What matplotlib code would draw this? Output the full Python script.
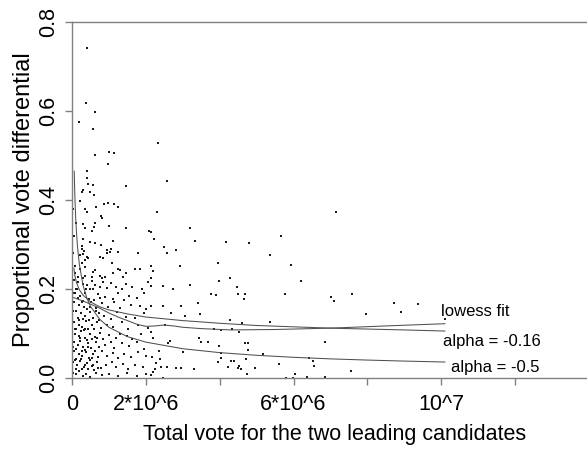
import matplotlib
matplotlib.use("Agg")
import matplotlib.pyplot as plt
import numpy as np

plt.rcParams['font.family'] = ['Liberation Sans', 'DejaVu Sans']

# ---- data (total vote in millions, proportional vote differential) ----
total_vote_m = [
    # upper sparse
    0.40, 0.39, 0.63, 0.20, 0.56, 2.32, 0.62, 1.00, 1.15, 0.98, 0.40, 0.40,
    # 0.22 - 0.44 band, left part
    0.44, 0.58, 1.46, 0.29, 0.26, 0.48, 0.59, 0.22, 0.86, 0.98, 1.14, 1.24, 0.64, 0.35, 0.40,
    0.78, 0.80, 0.11, 0.29, 0.35, 0.63, 0.59, 1.01, 1.46, 2.09, 0.55, 0.31, 1.10, 0.49, 0.62,
    0.78, 0.26, 0.28, 0.33, 0.31, 0.95, 1.05, 1.03, 0.94, 1.24, 1.79, 0.22, 0.40, 0.44, 0.35,
    0.26, 0.76, 0.85, 1.07, 0.08, 0.22, 0.35, 0.62, 0.58, 1.24, 1.30, 1.70, 1.84, 0.08, 0.17,
    0.35, 0.31, 0.53, 0.76, 0.80, 0.89, 1.12, 1.39, 1.46, 0.02, 0.06, 0.04,
    # dense block 0 - 2.1 M, y < 0.22
    0.15, 0.30, 0.40, 0.55, 0.62, 0.75, 0.85, 1.05, 1.20, 1.45, 1.62, 1.90, 2.05, 0.10, 0.50, 0.95, 1.35,
    0.08, 0.22, 0.35, 0.70, 0.90, 1.10, 1.25, 1.55, 1.75, 1.95, 0.45, 0.60, 1.40,
    0.05, 0.18, 0.30, 0.48, 0.80, 0.98, 1.15, 1.30, 1.60, 1.85, 2.00, 0.40, 0.65,
    0.10, 0.25, 0.35, 0.50, 0.58, 0.72, 0.88, 1.05, 1.22, 1.45, 1.70, 1.95, 0.15, 0.30, 0.45,
    0.06, 0.20, 0.28, 0.38, 0.42, 0.55, 0.68, 0.78, 0.95, 1.12, 1.35, 1.52, 1.80, 2.05, 0.12, 0.32,
    0.08, 0.18, 0.25, 0.35, 0.48, 0.62, 0.75, 0.85, 1.00, 1.18, 1.30, 1.48, 1.62, 1.88, 0.40, 0.55,
    0.05, 0.15, 0.22, 0.30, 0.42, 0.52, 0.65, 0.72, 0.90, 1.05, 1.15, 1.35, 1.55, 1.75, 1.95, 0.10, 0.35,
    0.06, 0.18, 0.28, 0.38, 0.45, 0.58, 0.70, 0.82, 0.95, 1.10, 1.25, 1.42, 1.60, 1.80, 2.00, 0.12, 0.25, 0.50,
    0.04, 0.14, 0.22, 0.32, 0.40, 0.55, 0.68, 0.78, 0.92, 1.08, 1.20, 1.38, 1.52, 1.70, 1.92, 0.10, 0.28, 0.60,
    0.03, 0.12, 0.20, 0.30, 0.38, 0.48, 0.65, 0.80, 1.00, 1.25, 1.50, 1.75, 2.00,
    0.02, 0.04, 0.07, 0.03, 0.09, 0.16, 0.19, 0.21, 0.26, 0.33, 0.36, 0.44, 0.47, 0.52, 0.56, 0.60,
    0.63, 0.66, 0.05, 0.13, 0.27, 0.34, 0.39, 0.43, 0.53, 0.58, 0.67, 0.70, 0.73, 0.76,
    # 2.1 - 4.3 M
    2.56, 2.29, 3.19, 2.13, 2.23, 3.32, 4.16, 2.49, 2.81, 2.56, 3.95, 2.92, 2.14, 2.20, 2.15,
    2.15, 2.47, 2.74, 3.19, 3.97, 3.76, 3.89, 2.15, 2.47, 2.96, 3.41, 2.69, 3.46, 3.06, 2.51,
    4.03, 3.84, 2.15, 3.44, 2.20, 2.65, 2.60, 3.50, 3.68, 3.99, 2.36, 3.01, 4.04, 2.18, 2.38,
    3.95, 4.04, 2.27, 2.42, 2.56, 2.81, 2.96, 3.30, 2.24, 2.20, 4.23, 2.47, 2.15,
    # 4.3 - 7.2 M
    7.14, 5.67, 4.79, 5.37, 5.94, 4.29,
    6.19, 4.47, 4.49, 4.69, 4.65, 5.77, 7.02, 7.11, 4.27, 4.61, 5.37, 4.34, 4.52, 4.68, 4.78,
    6.84, 4.77, 5.17, 4.70, 4.31, 4.38, 6.43, 5.62, 6.55, 4.52, 4.49, 4.58, 4.97, 6.05, 6.86,
    6.36, 5.80, 5.98, 4.74, 6.52,
    # > 7.2 M
    7.59, 8.73, 9.36, 7.96, 8.91, 10.10, 7.56,
]
vote_differential = [
    0.742, 0.617, 0.598, 0.575, 0.559, 0.529, 0.502, 0.508, 0.505, 0.480, 0.465, 0.450,
    0.437, 0.434, 0.432, 0.422, 0.419, 0.417, 0.411, 0.398, 0.391, 0.394, 0.391, 0.385, 0.384, 0.379, 0.374,
    0.364, 0.359, 0.348, 0.345, 0.338, 0.348, 0.340, 0.342, 0.338, 0.330, 0.330, 0.312, 0.308, 0.306, 0.303,
    0.300, 0.297, 0.291, 0.286, 0.279, 0.288, 0.290, 0.284, 0.280, 0.284, 0.282, 0.276, 0.273, 0.269, 0.265,
    0.259, 0.271, 0.269, 0.259, 0.252, 0.246, 0.249, 0.243, 0.239, 0.246, 0.243, 0.244, 0.246, 0.235, 0.228,
    0.229, 0.224, 0.226, 0.230, 0.224, 0.226, 0.235, 0.226, 0.237, 0.280, 0.320, 0.380,
    0.215, 0.212, 0.208, 0.218, 0.210, 0.205, 0.215, 0.214, 0.205, 0.212, 0.205, 0.200, 0.215, 0.200, 0.200, 0.202, 0.199,
    0.190, 0.185, 0.192, 0.188, 0.182, 0.178, 0.190, 0.185, 0.180, 0.190, 0.178, 0.176, 0.176,
    0.170, 0.165, 0.172, 0.160, 0.168, 0.160, 0.170, 0.158, 0.165, 0.162, 0.155, 0.155, 0.157,
    0.150, 0.145, 0.140, 0.148, 0.135, 0.145, 0.140, 0.132, 0.148, 0.138, 0.135, 0.145, 0.135, 0.132, 0.131,
    0.125, 0.120, 0.115, 0.127, 0.110, 0.118, 0.125, 0.112, 0.120, 0.115, 0.125, 0.110, 0.118, 0.112, 0.110, 0.108,
    0.100, 0.095, 0.105, 0.090, 0.100, 0.092, 0.102, 0.088, 0.097, 0.090, 0.100, 0.095, 0.088, 0.100, 0.086, 0.087,
    0.080, 0.075, 0.083, 0.070, 0.078, 0.068, 0.080, 0.070, 0.075, 0.082, 0.068, 0.078, 0.072, 0.080, 0.066, 0.065, 0.064,
    0.060, 0.055, 0.050, 0.058, 0.045, 0.055, 0.048, 0.060, 0.050, 0.057, 0.045, 0.055, 0.048, 0.058, 0.050, 0.043, 0.042, 0.041,
    0.035, 0.030, 0.038, 0.025, 0.033, 0.028, 0.035, 0.022, 0.030, 0.036, 0.025, 0.032, 0.020, 0.030, 0.025, 0.020, 0.020, 0.019,
    0.012, 0.008, 0.015, 0.005, 0.010, 0.003, 0.012, 0.006, 0.010, 0.004, 0.012, 0.005, 0.010,
    0.190, 0.150, 0.110, 0.070, 0.040, 0.180, 0.130, 0.090, 0.060, 0.160, 0.110, 0.070, 0.130, 0.170, 0.030, 0.110,
    0.060, 0.150, 0.220, 0.200, 0.170, 0.030, 0.200, 0.020, 0.045, 0.200, 0.090, 0.022, 0.130, 0.180,
    0.443, 0.372, 0.336, 0.329, 0.312, 0.307, 0.305, 0.294, 0.287, 0.282, 0.259, 0.252, 0.252, 0.240, 0.224,
    0.207, 0.207, 0.199, 0.210, 0.219, 0.189, 0.187, 0.162, 0.162, 0.162, 0.169, 0.147, 0.144, 0.139, 0.120,
    0.108, 0.111, 0.104, 0.091, 0.091, 0.083, 0.078, 0.080, 0.080, 0.072, 0.061, 0.058, 0.057, 0.048, 0.042,
    0.037, 0.046, 0.033, 0.025, 0.024, 0.022, 0.022, 0.020, 0.020, 0.014, 0.024, 0.001, 0.006,
    0.373, 0.320, 0.303, 0.276, 0.254, 0.224,
    0.219, 0.204, 0.189, 0.189, 0.177, 0.189, 0.183, 0.173, 0.130, 0.123, 0.126, 0.109, 0.104, 0.078, 0.078,
    0.080, 0.063, 0.053, 0.042, 0.039, 0.039, 0.044, 0.031, 0.027, 0.026, 0.022, 0.020, 0.023, 0.009, 0.003,
    0.002, 0.001, 0.001, 0.009, 0.039,
    0.189, 0.169, 0.166, 0.144, 0.148, 0.132, 0.016,
]

# fitted curves
lowess_x = [0.03, 0.1, 0.2, 0.3, 0.5, 0.75, 1.0, 1.25, 1.5, 1.75, 2.0, 2.25, 2.5, 2.75, 3.0,
            3.5, 4.3, 5.5, 6.5, 7.3, 8.5, 10.1]
lowess_y = [0.181, 0.179, 0.176, 0.173, 0.166, 0.157, 0.146, 0.137, 0.129, 0.121, 0.116, 0.117,
            0.119, 0.117, 0.114, 0.111, 0.108, 0.109, 0.111, 0.113, 0.117, 0.122]

a016_x = [0.05, 0.08, 0.12, 0.2, 0.3, 0.5, 0.75, 1.0, 1.5, 2.0, 3.0, 4.0, 5.0, 6.0, 7.0, 8.0, 9.0, 10.1]
a016_y = [0.247, 0.229, 0.215, 0.198, 0.186, 0.171, 0.160, 0.153, 0.144, 0.137, 0.129, 0.123,
          0.118, 0.115, 0.112, 0.110, 0.108, 0.1055]

a05_x = [0.06, 0.07, 0.08, 0.1, 0.12, 0.15, 0.2, 0.3, 0.4, 0.5, 0.75, 1.0, 1.5, 2.0, 3.0, 4.0,
         5.0, 6.0, 7.0, 8.0, 9.0, 10.1]
a05_y = [0.465, 0.431, 0.403, 0.360, 0.329, 0.294, 0.255, 0.208, 0.180, 0.161, 0.132, 0.114,
         0.093, 0.0806, 0.0658, 0.057, 0.051, 0.0465, 0.043, 0.0403, 0.038, 0.0359]

x_ticks = [0, 2, 4, 6, 8, 10, 12]
x_tick_labels = ["0", "2*10^6", "", "6*10^6", "", "10^7", ""]
y_ticks = [0.0, 0.2, 0.4, 0.6, 0.8]
y_tick_labels = ["0.0", "0.2", "0.4", "0.6", "0.8"]

# ---- figure ----
fig = plt.figure(figsize=(5.87, 4.51), dpi=100)
ax = fig.add_axes([72 / 587, 73 / 451, 515 / 587, 356 / 451])
ax.set_xlim(0, 13.95)
ax.set_ylim(0, 0.8)

ax.scatter(total_vote_m, vote_differential, s=0.8, marker='s', c='#1a1a1a', linewidths=0)

line_kw = dict(color='#505050', lw=0.75)
ax.plot(lowess_x, lowess_y, **line_kw)
ax.plot(a016_x, a016_y, **line_kw)
ax.plot(a05_x, a05_y, **line_kw)

ax.text(10.0, 0.140, "lowess fit", fontsize=12, ha='left', va='baseline')
ax.text(10.04, 0.0726, "alpha = -0.16", fontsize=12, ha='left', va='baseline')
ax.text(10.26, 0.0142, "alpha = -0.5", fontsize=12, ha='left', va='baseline')

spine_col = '#808080'
for side in ['left', 'bottom', 'top']:
    ax.spines[side].set_color(spine_col)
    ax.spines[side].set_linewidth(1.0)
ax.spines['right'].set_visible(False)

ax.set_xticks(x_ticks)
ax.set_xticklabels(x_tick_labels, fontsize=15.5)
ax.set_yticks(y_ticks)
ax.set_yticklabels(y_tick_labels, fontsize=15.5, rotation=90, va='center')
ax.tick_params(axis='both', direction='out', length=5, width=1.0, color=spine_col)
ax.tick_params(axis='x', pad=6.5)
ax.tick_params(axis='y', pad=4)

ax.set_xlabel("Total vote for the two leading candidates", fontsize=15.5)
ax.xaxis.set_label_coords((335 - 72) / 515, -0.129)
ax.set_ylabel("Proportional vote differential", fontsize=17)
ax.yaxis.set_label_coords(-0.0718, 0.5)

fig.savefig("out.png", dpi=100)
